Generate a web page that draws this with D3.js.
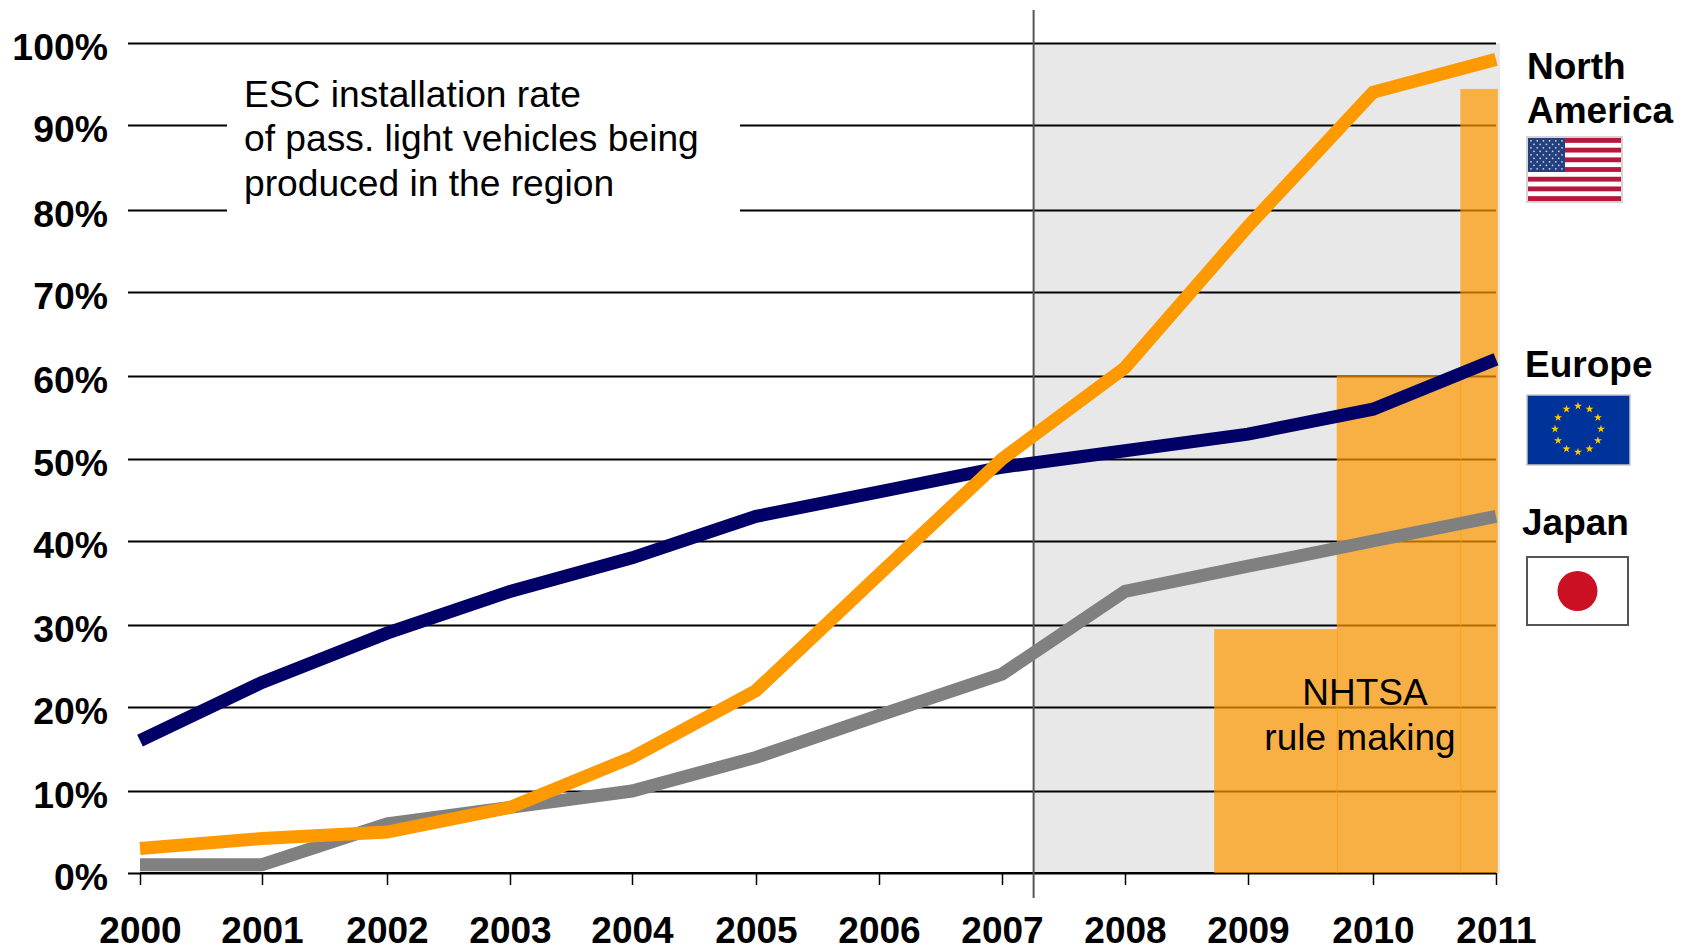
<!DOCTYPE html>
<html>
<head>
<meta charset="utf-8">
<script src="https://cdnjs.cloudflare.com/ajax/libs/d3/7.8.5/d3.min.js"></script>
<style>
  html, body { margin: 0; padding: 0; background: #fff; }
  svg { display: block; font-family: "Liberation Sans", Arial, sans-serif; }
</style>
</head>
<body>
<svg id="chart" width="1690" height="948"></svg>
<script>
// ESC installation rate by production region, 2000-2011
const years = [2000, 2001, 2002, 2003, 2004, 2005, 2006, 2007, 2008, 2009, 2010, 2011];
const northAmerica = [3, 4.2, 5, 8, 14, 22, 36, 50, 61, 78, 94, 98];
const europe = [16, 23, 29, 34, 38, 43, 46, 49, 51, 53, 56, 62];
const japan = [1, 1, 6, 8, 10, 14, 19, 24, 34, 37, 40, 43];
const percentTicks = [0, 10, 20, 30, 40, 50, 60, 70, 80, 90, 100];

// NHTSA rule making phase-in steps: [from year, to year, required share]
const ruleSteps = [
  [2008.725, 2009.718, 29.5],
  [2009.71, 2010.718, 60],
  [2010.71, 2011.015, 94.4]
];
const forecastStart = 2007.257;

// The axes of this figure are hand-spaced, so both scales are piecewise
const x = d3.scaleLinear().domain(years)
  .range([140, 262, 387, 510, 632, 756, 879, 1002, 1125, 1248, 1373, 1496]);
const y = d3.scaleLinear().domain(percentTicks)
  .range([873, 791, 707, 625, 541, 459, 376, 292, 210, 125, 43]);

const svg = d3.select("#chart");

// Forecast period shading
svg.append("rect")
  .attr("x", x(forecastStart)).attr("y", y(100))
  .attr("width", x(2011) + 4 - x(forecastStart))
  .attr("height", y(0) - y(100))
  .attr("fill", "#e8e8e8");

// Horizontal grid with percent labels
const yAxis = d3.axisLeft(y)
  .tickValues(percentTicks)
  .tickSize(0)
  .tickPadding(0)
  .tickFormat(d => d + "%");
const yG = svg.append("g").call(yAxis);
yG.select(".domain").remove();
yG.selectAll(".tick line")
  .attr("x1", 128).attr("x2", x(2011))
  .attr("stroke", "#000").attr("stroke-width", 2);
yG.selectAll(".tick text")
  .attr("x", 108).attr("dy", 16)
  .attr("text-anchor", "end")
  .attr("font-family", "Liberation Sans, Arial, sans-serif")
  .attr("font-size", 37.4).attr("font-weight", "bold").attr("fill", "#000");

// Year axis
const xAxis = d3.axisBottom(x)
  .tickValues(years)
  .tickSize(12)
  .tickPadding(0)
  .tickFormat(d3.format("d"));
const xG = svg.append("g").attr("transform", `translate(0,${y(0)})`).call(xAxis);
xG.select(".domain").attr("stroke", "#000").attr("stroke-width", 2).attr("d", `M${x(2000)},0H${x(2011)}`);
xG.selectAll(".tick line").attr("stroke", "#000").attr("stroke-width", 1.5);
xG.selectAll(".tick text")
  .attr("y", 70).attr("dy", 0)
  .attr("font-family", "Liberation Sans, Arial, sans-serif")
  .attr("font-size", 37).attr("font-weight", "bold").attr("fill", "#000");

// Label panel that interrupts the upper grid lines
svg.append("rect")
  .attr("x", 227).attr("y", y(97)).attr("width", 513).attr("height", y(72) - y(97))
  .attr("fill", "#fff");
const note = ["ESC installation rate", "of pass. light vehicles being", "produced in the region"];
svg.append("g").selectAll("text").data(note).join("text")
  .attr("x", 244).attr("y", (d, i) => 107 + i * 44.3)
  .attr("font-size", 37.2).attr("fill", "#000")
  .text(d => d);

// Start of forecast marker
svg.append("line")
  .attr("x1", x(forecastStart)).attr("x2", x(forecastStart))
  .attr("y1", 10).attr("y2", 898)
  .attr("stroke", "#555").attr("stroke-width", 2);

// Rule making steps
svg.append("g").selectAll("rect").data(ruleSteps).join("rect")
  .attr("x", d => x(d[0]))
  .attr("width", d => x(d[1]) - x(d[0]))
  .attr("y", d => y(d[2]))
  .attr("height", d => y(0) - y(d[2]))
  .attr("fill", "#ff9900").attr("fill-opacity", 0.7);

const ruleLabel = [["NHTSA", 1365, 705], ["rule making", 1360, 750]];
svg.append("g").selectAll("text").data(ruleLabel).join("text")
  .attr("x", d => d[1]).attr("y", d => d[2])
  .attr("text-anchor", "middle")
  .attr("font-size", 37).attr("fill", "#000")
  .text(d => d[0]);

// Regional series
const line = d3.line().x((d, i) => x(years[i])).y(d => y(d));
const series = [
  { values: japan, color: "#808080" },
  { values: europe, color: "#000066" },
  { values: northAmerica, color: "#ff9900" }
];
svg.append("g").selectAll("path").data(series).join("path")
  .attr("d", d => line(d.values))
  .attr("fill", "none")
  .attr("stroke", d => d.color)
  .attr("stroke-width", 13)
  .attr("stroke-linejoin", "miter")
  .attr("stroke-linecap", "butt");

// Region names
const regionNames = [
  ["North", 1527, 79], ["America", 1527, 123],
  ["Europe", 1525, 377], ["Japan", 1522, 535]
];
svg.append("g").selectAll("text").data(regionNames).join("text")
  .attr("x", d => d[1]).attr("y", d => d[2])
  .attr("font-size", 37).attr("font-weight", "bold").attr("fill", "#000")
  .text(d => d[0]);

// US flag
const us = svg.append("g").attr("transform", "translate(1528,138)");
const usW = 93, usH = 63, stripeH = usH / 13;
us.append("rect").attr("x", -1).attr("y", -1).attr("width", usW + 2).attr("height", usH + 2)
  .attr("fill", "#fff").attr("stroke", "#c8c8c8").attr("stroke-width", 1.5);
us.selectAll(".stripe").data(d3.range(0, 13, 2)).join("rect")
  .attr("class", "stripe")
  .attr("x", 0).attr("y", d => d * stripeH).attr("width", usW).attr("height", stripeH)
  .attr("fill", "#b8173d");
us.append("rect").attr("width", 37).attr("height", stripeH * 7).attr("fill", "#24407f");
const starRows = d3.range(9);
starRows.forEach(r => {
  const n = r % 2 ? 5 : 6;
  us.append("g").selectAll("circle").data(d3.range(n)).join("circle")
    .attr("cx", i => (r % 2 ? 6 : 3) + i * 6.2)
    .attr("cy", 2.8 + r * 3.5)
    .attr("r", 0.9)
    .attr("fill", "#c9d3ea");
});

// EU flag
const eu = svg.append("g").attr("transform", "translate(1527,395)");
eu.append("rect").attr("width", 103).attr("height", 70)
  .attr("fill", "#003399").attr("stroke", "#c8c8c8").attr("stroke-width", 1.5);
const starPath = d3.symbol().type(d3.symbolStar).size(20);
eu.append("g").selectAll("path").data(d3.range(12)).join("path")
  .attr("d", starPath())
  .attr("transform", i => {
    const a = i / 12 * 2 * Math.PI;
    return `translate(${51 + 23 * Math.sin(a)},${34 - 23 * Math.cos(a)})`;
  })
  .attr("fill", "#ffcc00");

// Japanese flag
const jp = svg.append("g").attr("transform", "translate(1527,557)");
jp.append("rect").attr("width", 101).attr("height", 68)
  .attr("fill", "#fff").attr("stroke", "#555").attr("stroke-width", 2);
jp.append("circle").attr("cx", 50.5).attr("cy", 34).attr("r", 20).attr("fill", "#cc1024");
</script>
</body>
</html>
